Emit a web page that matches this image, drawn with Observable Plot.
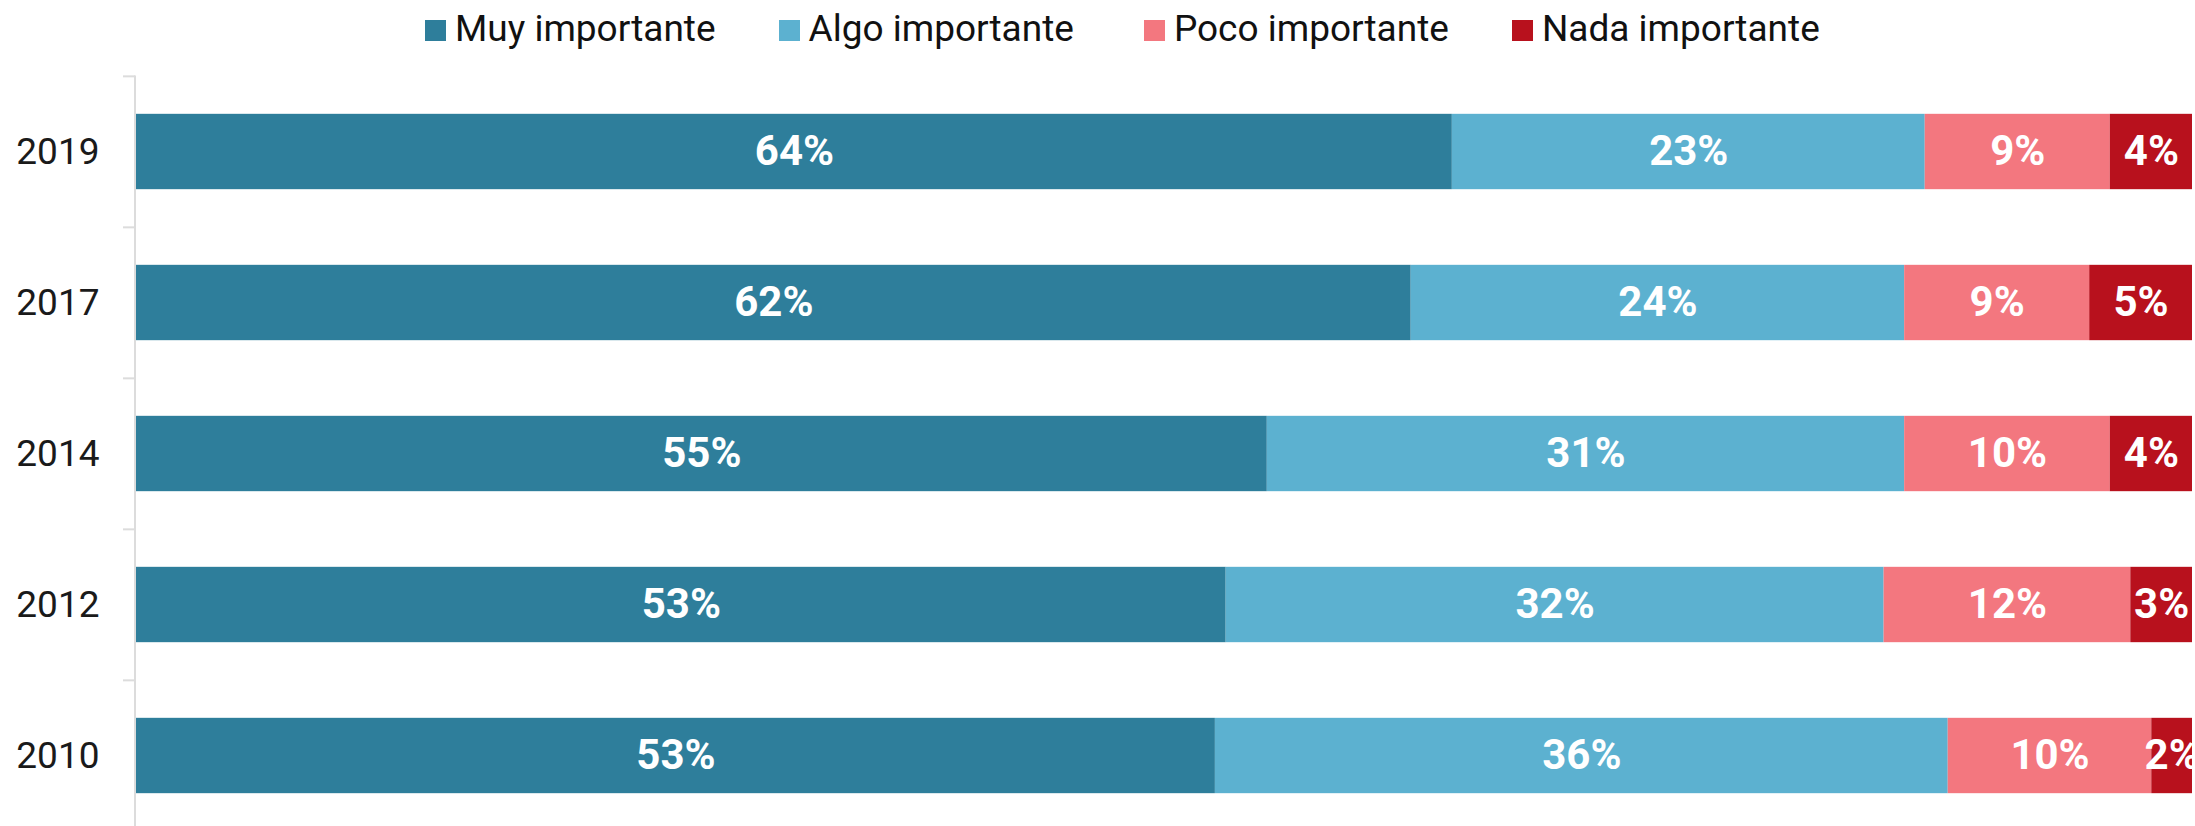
<!DOCTYPE html>
<html>
<head>
<meta charset="utf-8">
<script src="https://cdn.jsdelivr.net/npm/d3@7"></script>
<script src="https://cdn.jsdelivr.net/npm/@observablehq/plot@0.6"></script>
<style>
  html, body { margin: 0; padding: 0; background: #fff; }
  #wrap { width: 2195px; height: 826px; overflow: hidden; position: relative; font-family: Roboto, sans-serif; }
  #legend { box-sizing: border-box; height: 60px; padding-top: 7px; padding-left: 425px; white-space: nowrap; font-size: 37px; color: #111; line-height: normal; }
  .item { display: inline-block; margin-right: 63px; }
  .item.wide { margin-right: 70px; }
  .sw { display: inline-block; width: 21px; height: 21px; margin-right: 9px; vertical-align: baseline; }
  #chart svg { display: block; }
</style>
</head>
<body>
<div id="wrap">
  <div id="legend"></div>
  <div id="chart"></div>
</div>
<script>
const years = ["2019", "2017", "2014", "2012", "2010"];
const categories = ["Muy importante", "Algo importante", "Poco importante", "Nada importante"];
const muy  = [64, 62, 55, 53, 53];
const algo = [23, 24, 31, 32, 36];
const poco = [9, 9, 10, 12, 10];
const nada = [4, 5, 4, 3, 2];
const colors = ["#2e7e9b", "#5cb1d0", "#f3777f", "#b8111d"];

const series = [muy, algo, poco, nada];
const data = [];
categories.forEach((cat, ci) => {
  years.forEach((year, yi) => {
    data.push({year, cat, value: series[ci][yi]});
  });
});

// legend
const legend = document.getElementById("legend");
categories.forEach((cat, i) => {
  const item = document.createElement("span");
  item.className = "item" + (i === 1 ? " wide" : "");
  const sw = document.createElement("span");
  sw.className = "sw";
  sw.style.background = colors[i];
  item.appendChild(sw);
  item.appendChild(document.createTextNode(cat));
  legend.appendChild(item);
});

const height = 772;
const marginTop = 15.6;
const step = (height - marginTop) / years.length;
const inset = step / 4;

const chart = Plot.plot({
  width: 2195,
  height,
  marginTop,
  marginBottom: 0,
  marginLeft: 136,
  marginRight: 3,
  style: { fontFamily: "Roboto, sans-serif", color: "#1a1a1a", background: "#fff" },
  x: { domain: [0, 1], axis: null },
  y: { domain: years, padding: 0, axis: null, label: null },
  color: { domain: categories, range: colors },
  marks: [
    Plot.barX(data, Plot.stackX({
      x: "value", y: "year", fill: "cat", offset: "normalize",
      insetTop: inset, insetBottom: inset
    })),
    Plot.textX(data, Plot.stackX({
      x: "value", y: "year", z: "cat", offset: "normalize",
      text: d => d.value + "%", fill: "white", fontSize: 42, fontWeight: "bold"
    })),
    Plot.ruleX([0], { stroke: "#dcdcdc", strokeWidth: 2, dx: -1.5 }),
    Plot.axisY({ tickSize: 0, tickPadding: 37, fontSize: 37, fill: "#1a1a1a", label: null }),
    Plot.axisY({ tickSize: 12, text: null, label: null, stroke: "#dcdcdc", strokeWidth: 2, dy: -step / 2, dx: -1 })
  ]
});
document.getElementById("chart").appendChild(chart);
</script>
</body>
</html>
